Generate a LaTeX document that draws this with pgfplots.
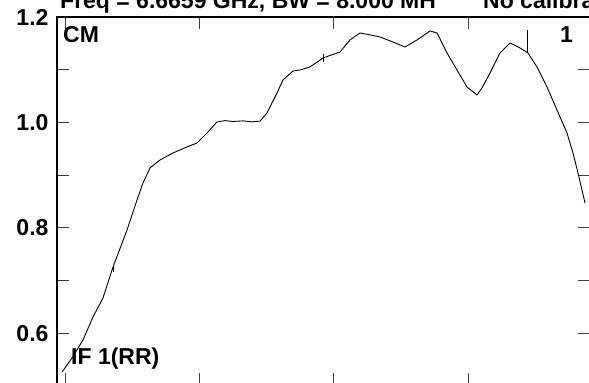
\documentclass[border=0pt]{standalone}
\usepackage{fontspec}
\setmainfont{Liberation Sans}
\usepackage{pgfplots}
\pgfplotsset{compat=1.18}

\begin{document}
\begin{tikzpicture}
\begin{axis}[
  scale only axis,
  width=533pt, height=368.2pt,
  xmin=0, xmax=533,
  ymin=0.502, ymax=1.2,
  clip=false,
  axis line style={black, line width=1.2pt},
  tick align=inside,
  major tick length=12pt, minor tick length=12pt,
  tick style={black!75, line width=1pt},
  xtick={9,142,276,411}, xticklabels={},
  ytick={0.6,0.8,1.0,1.2},
  minor ytick={0.7,0.9,1.1},
  yticklabel style={font=\fontsize{23}{27}\selectfont\bfseries, xshift=-5pt,
    /pgf/number format/.cd, fixed, fixed zerofill, precision=1, assume math mode=true},
]
% trace
\addplot[black, line width=0.9pt] coordinates {
  (5,0.527) (8,0.5346) (15,0.5536) (26,0.5877) (36,0.6313) (46,0.6673)
  (56,0.7261) (63,0.7610) (70,0.7962) (80,0.8531) (86,0.8853) (93,0.9138)
  (103,0.9289) (116,0.9422) (130,0.9536) (140,0.9611) (150,0.9801)
  (160,1.0010) (168,1.0035) (176,1.0019) (186,1.0030) (195,1.0012) (203,1.0025)
  (210,1.018) (220,1.0559) (226,1.0806) (236,1.0976) (243,1.0995)
  (253,1.1052) (266,1.1223) (283,1.1337) (293,1.1564) (303,1.1697)
  (313,1.1660) (323,1.1621) (336,1.1526) (348,1.1431) (360,1.1564)
  (373,1.1735) (380,1.1697) (390,1.1318) (400,1.0995) (410,1.0673)
  (420,1.0521) (425,1.0654) (433,1.0938) (443,1.1318) (453,1.1507)
  (463,1.1412) (471,1.1318) (480,1.1052) (490,1.0673) (503,1.0104)
  (510,0.9801) (516,0.9422) (521,0.9043) (528,0.8474)
};
% marker lines
\addplot[black, line width=0.8pt] coordinates {(56,0.7175) (56,0.7270)};
\addplot[black, line width=0.8pt] coordinates {(266,1.1146) (266,1.1298)};
\addplot[black, line width=0.8pt] coordinates {(470,1.1318) (470,1.1754)};
% texts
\node[anchor=base west, font=\fontsize{23}{27}\selectfont\bfseries, inner sep=0pt]
  at (axis cs:3,1.2152) {Freq = 6.6659 GHz, BW = 8.000 MH};
\node[anchor=base west, font=\fontsize{23}{27}\selectfont\bfseries, inner sep=0pt]
  at (axis cs:426,1.2152) {No calibration};
\node[anchor=base west, font=\fontsize{23}{27}\selectfont\bfseries, inner sep=0pt]
  at (axis cs:6,1.1507) {CM};
\node[anchor=base east, font=\fontsize{23}{27}\selectfont\bfseries, inner sep=0pt]
  at (axis cs:516,1.1507) {1};
\node[anchor=base west, font=\fontsize{23}{27}\selectfont\bfseries, inner sep=0pt]
  at (axis cs:14,0.5403) {IF 1(RR)};
\coordinate (bbA) at (axis cs:-57,0.5062);
\coordinate (bbB) at (axis cs:532,1.2322);
\end{axis}
\pgfresetboundingbox
\useasboundingbox (bbA) rectangle (bbB);
\end{tikzpicture}
\end{document}
